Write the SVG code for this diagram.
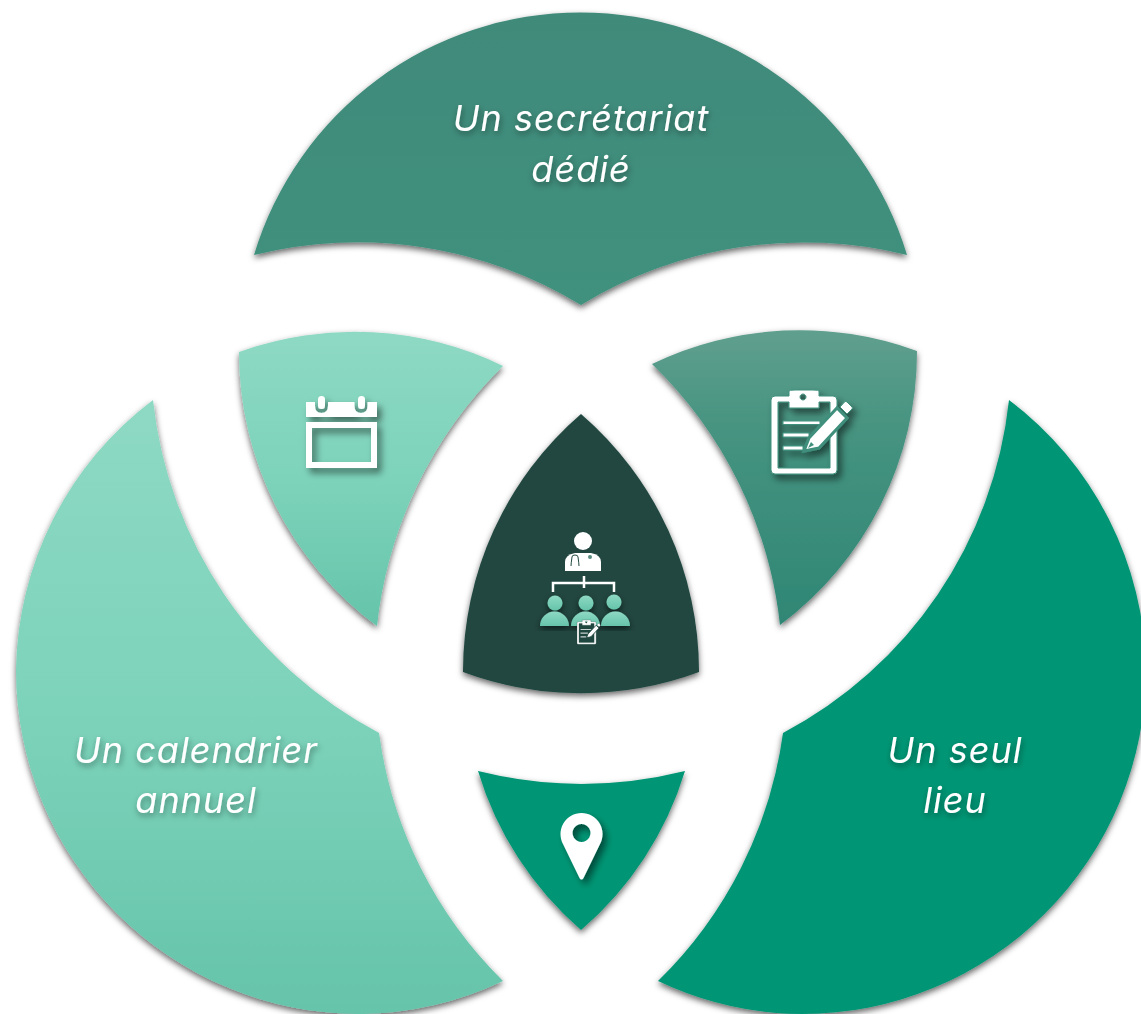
<svg xmlns="http://www.w3.org/2000/svg" xmlns:xlink="http://www.w3.org/1999/xlink" width="1141" height="1014" viewBox="0 0 1141 1014">
<style>
.lbl{font-family:"Inter","Open Sans","Liberation Sans",sans-serif;font-style:italic;font-size:36px;fill:#fff;text-anchor:middle;letter-spacing:1px;filter:url(#ts)}
.w{fill:#fff}
</style>
<defs>
<linearGradient id="gl" x1="0" y1="0" x2="0" y2="1"><stop offset="0" stop-color="#8ed9c3"/><stop offset="0.5" stop-color="#7dd3ba"/><stop offset="1" stop-color="#65c4aa"/></linearGradient>
<linearGradient id="gt" x1="0" y1="0" x2="0" y2="1"><stop offset="0" stop-color="#408a7a"/><stop offset="1" stop-color="#3f917e"/></linearGradient>
<linearGradient id="gr" x1="0" y1="0" x2="0" y2="1"><stop offset="0" stop-color="#609f8e"/><stop offset="0.35" stop-color="#459380"/><stop offset="1" stop-color="#2f8674"/></linearGradient>
<linearGradient id="gp" x1="0" y1="0" x2="0" y2="1"><stop offset="0" stop-color="#8ed9c3"/><stop offset="1" stop-color="#65c4aa"/></linearGradient>
<filter id="sh" x="-10%" y="-10%" width="120%" height="125%"><feDropShadow dx="0" dy="3" stdDeviation="3" flood-color="#000" flood-opacity="0.6"/></filter>
<filter id="ts" x="-10%" y="-20%" width="120%" height="150%"><feDropShadow dx="1" dy="3" stdDeviation="3" flood-color="#000" flood-opacity="0.4"/></filter>
<filter id="is" x="-20%" y="-20%" width="150%" height="150%"><feDropShadow dx="4" dy="5" stdDeviation="3.5" flood-color="#000" flood-opacity="0.5"/></filter>
<g id="clip">
<path class="w" fill-rule="evenodd" d="M775,396H789V391Q789,390 795,390H813Q819,390 819,391V396H833Q837,396 837,400V470Q837,474 833,474H775Q771,474 771,470V400Q771,396 775,396ZM778,402V468H830V402H819V408H789V402ZM803,394a3,3 0 1 0 .01,0Z"/>
<path class="w" d="M783,421H820V424.500H783ZM783,433H809V437H783ZM783,446H803V450H783Z"/>
<path class="w" stroke-width="3" d="M809,438L837,408L847,418L819,448L804,451Z"/>
<path class="w" d="M840,407L845,401.500Q846,401 847,402L852,407Q853,408 852,409L847,414Z"/>
</g>
</defs>

<g id="connectors"></g>

<g id="node-top"><path fill="url(#gt)" filter="url(#sh)" d="M254,255A341,341 0 0 1 907,255A428,428 0 0 0 581,305A428,428 0 0 0 254,255Z"/>
<text class="lbl" x="581" y="131">Un secrétariat</text><text class="lbl" x="581" y="182">dédié</text></g>

<g id="node-left"><path fill="url(#gl)" filter="url(#sh)" d="M153,400A344,344 0 0 0 16,670A344,344 0 0 0 360,1014A344,344 0 0 0 503,981A428,428 0 0 1 379,733A428,428 0 0 1 153,400Z"/>
<text class="lbl" x="196" y="763">Un calendrier</text><text class="lbl" x="196" y="813">annuel</text></g>

<g id="node-right"><path fill="#039675" filter="url(#sh)" d="M1009,400A344,344 0 0 1 1146,670A344,344 0 0 1 802,1014A344,344 0 0 1 658,981A428,428 0 0 0 783,733A428,428 0 0 0 1009,400Z"/>
<text class="lbl" x="955" y="763">Un seul</text><text class="lbl" x="955" y="813">lieu</text></g>

<g id="node-calendar"><path fill="url(#gl)" filter="url(#sh)" d="M239,352A340,340 0 0 1 503,366A428,428 0 0 0 377,626A341,341 0 0 1 239,352Z"/>
<g filter="url(#is)">
<path class="w" fill-rule="evenodd" d="M306,422H377V468H306ZM312,428V462H371V428Z"/>
<path class="w" d="M306,402H315V406Q315,413 321.500,413Q328,413 328,406V402H354.500V406Q354.500,413 361,413Q367.500,413 367.500,406V402H377V417H306Z"/>
<rect class="w" x="318" y="396" width="7" height="13" rx="3.500"/>
<rect class="w" x="358" y="396" width="7" height="13" rx="3.500"/>
</g></g>

<g id="node-clipboard"><path fill="url(#gr)" filter="url(#sh)" d="M917,351A340,340 0 0 0 652,364A428,428 0 0 1 780,625A341,341 0 0 0 917,351Z"/>
<g filter="url(#is)"><use xlink:href="#clip" href="#clip" stroke="#3f8f7d"/></g>
<path d="M808,448L811,442L814,445Z" fill="#3f8f7d"/></g>

<g id="node-center"><path fill="#20473f" filter="url(#sh)" d="M581,414A340,340 0 0 1 699,672A340,340 0 0 1 463,672A340,340 0 0 1 581,414Z"/>
<circle class="w" cx="583" cy="541" r="9"/>
<path class="w" d="M565,571V562Q565,555 575,553H591Q601,555 601,562V571Z"/>
<path d="M572,557Q572,555 575,555M572,557Q571,564 571,566M578,557Q578,555 575,555M578,557Q579,564 579,566" fill="none" stroke="#20473f" stroke-width="1"/>
<circle cx="590" cy="557" r="2" fill="#5a8d80"/>
<path d="M553,592V583H614V592M584,576V588" fill="none" stroke="#fff" stroke-width="2.500"/>
<g filter="url(#sh)" fill="url(#gp)">
<circle cx="555" cy="603" r="7.500"/><path d="M540,626A14.500,14.500 0 0 1 569,626Z"/>
<circle cx="586" cy="603" r="7.500"/><path d="M571,626A14.500,14.500 0 0 1 600,626Z"/>
<circle cx="614" cy="602" r="7.500"/><path d="M601,626A14.500,14.500 0 0 1 630,626Z"/>
</g>
<rect x="577" y="622" width="18" height="22" fill="#20473f"/>
<g transform="translate(577,620) scale(.29) translate(-771,-390)"><use xlink:href="#clip" href="#clip" stroke="#20473f"/></g>
</g>

<g id="node-pin"><path fill="#039675" filter="url(#sh)" d="M478,771A428,428 0 0 0 685,771A340,340 0 0 1 581,930A340,340 0 0 1 478,771Z"/>
<path class="w" filter="url(#is)" fill-rule="evenodd" d="M579.500,878L563,844A21,21 0 1 1 600,844L583.500,878Q581.500,881 579.500,878ZM581.500,824a9,9 0 1 0 .01,0Z"/></g>
</svg>
